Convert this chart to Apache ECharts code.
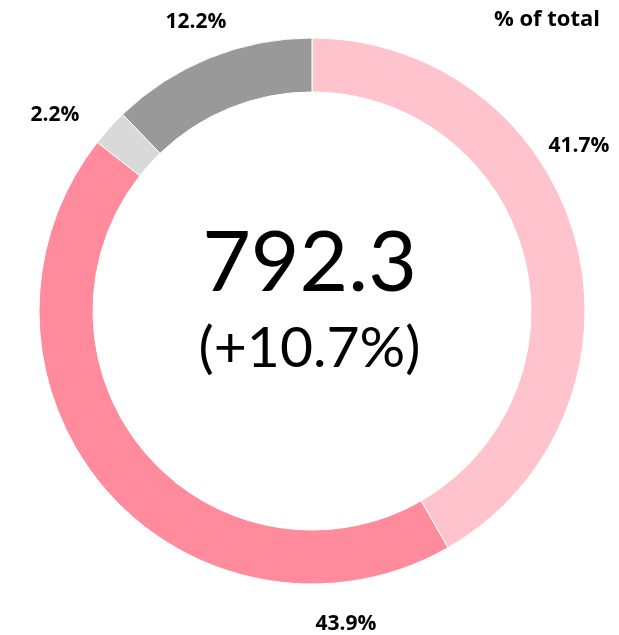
<!DOCTYPE html>
<html>
<head>
<meta charset="UTF-8">
<title>% of total</title>
<script src="https://cdn.jsdelivr.net/npm/echarts@6/dist/echarts.min.js"></script>
<style>
    html, body { margin: 0; padding: 0; background: #fff; }
    #container { width: 619px; height: 635px; }
</style>
</head>
<body>
<div id="container"></div>
<script type="text/javascript">
    // slices, clockwise from 12 o'clock
    var names = ['A', 'B', 'C', 'D'];
    var shares = [41.7, 43.9, 2.2, 12.2];
    var colors = ['#ffc3ce', '#ff8b9d', '#d9d9d9', '#999999'];
    var totalValue = '792.3';
    var totalChange = '(+10.7%)';

    // where each percentage label sits (hand placed, like the original)
    var labelPos = [[579, 146], [346, 624], [55, 115], [196, 22]];

    var myChart = echarts.init(document.getElementById('container'), null, { renderer: 'canvas' });

    var option = {
        animation: false,
        graphic: [
            {
                type: 'text', left: 'center', top: 222,
                style: { text: totalValue, fontFamily: 'Lato', fontSize: 84, fill: '#000' }
            },
            {
                type: 'text', left: 'center', top: 320,
                style: { text: totalChange, fontFamily: 'Lato', fontSize: 57, fill: '#000' }
            },
            {
                type: 'text', right: 19, top: 9,
                style: { text: '% of total', fontFamily: 'Open Sans', fontWeight: 700, fontSize: 22, fill: '#000' }
            }
        ],
        series: [
            {
                type: 'pie',
                center: [312, 311],
                radius: [219, 273],
                startAngle: 90,
                clockwise: true,
                silent: true,
                avoidLabelOverlap: false,
                itemStyle: { borderColor: '#fff', borderWidth: 1 },
                labelLine: { show: false },
                label: {
                    show: true,
                    position: 'outside',
                    formatter: function (p) { return p.value.toFixed(1) + '%'; },
                    fontFamily: 'Open Sans',
                    fontWeight: 700,
                    fontSize: 21,
                    color: '#000'
                },
                labelLayout: function (p) {
                    var pos = labelPos[p.dataIndex];
                    return { x: pos[0], y: pos[1], align: 'center', verticalAlign: 'middle', hideOverlap: false };
                },
                data: shares.map(function (v, i) {
                    return { name: names[i], value: v, itemStyle: { color: colors[i] } };
                })
            }
        ]
    };
    myChart.setOption(option);
</script>
</body>
</html>
